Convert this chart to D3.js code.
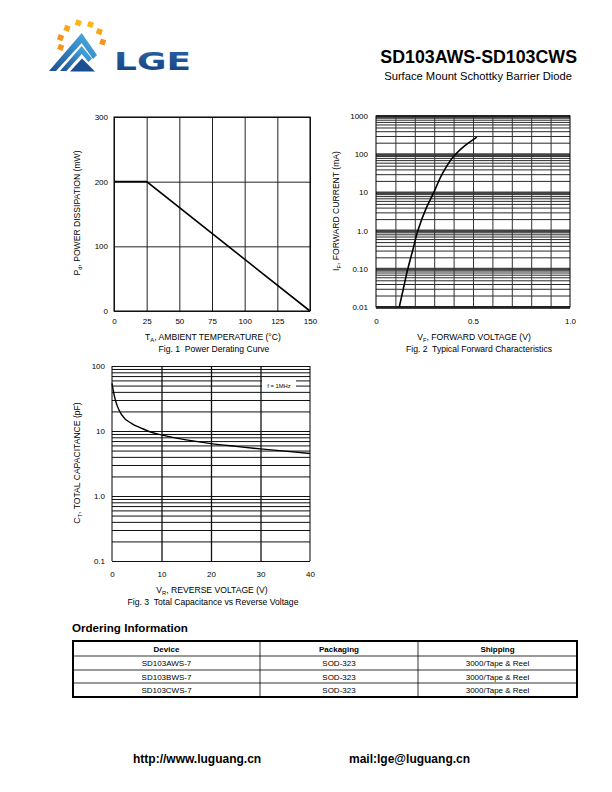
<!DOCTYPE html>
<html><head><meta charset="utf-8">
<script src="https://cdn.jsdelivr.net/npm/d3@7/dist/d3.min.js"></script>
<style>body{margin:0;background:#fff}svg{display:block;font-family:"Liberation Sans",Arial,sans-serif}text{white-space:pre}</style>
</head><body>
<script>
// ---------- data ----------
const fig1Temp = [0, 25, 150];
const fig1Power = [200, 200, 0];
const fig1XTicks = [0, 25, 50, 75, 100, 125, 150];
const fig1YTicks = [0, 100, 200, 300];

const fig2Vf = [0.12, 0.141, 0.164, 0.189, 0.216, 0.26, 0.298, 0.341, 0.41, 0.46, 0.52];
const fig2If = [0.01, 0.03, 0.1, 0.3, 1, 4, 10, 30, 100, 170, 280];
const fig2XTicks = [0, 0.5, 1.0];
const fig2XLabels = ["0", "0.5", "1.0"];
const fig2YTicks = [0.01, 0.1, 1, 10, 100, 1000];
const fig2YLabels = ["0.01", "0.10", "1.0", "10", "100", "1000"];

const fig3Vr = [0, 0.5, 1, 2, 4, 6, 8, 10, 15, 20, 25, 30, 35, 40];
const fig3Ct = [54, 34, 25, 17.6, 13, 11, 9.5, 8.7, 7.3, 6.4, 5.8, 5.3, 4.9, 4.5];
const fig3XTicks = [0, 10, 20, 30, 40];
const fig3YTicks = [0.1, 1, 10, 100];
const fig3YLabels = ["0.1", "1.0", "10", "100"];

const orderHeader = ["Device", "Packaging", "Shipping"];
const orderDevice = ["SD103AWS-7", "SD103BWS-7", "SD103CWS-7"];
const orderPackaging = ["SOD-323", "SOD-323", "SOD-323"];
const orderShipping = ["3000/Tape & Reel", "3000/Tape & Reel", "3000/Tape & Reel"];

// ---------- svg ----------
const svg = d3.select("body").append("svg").attr("width", 612).attr("height", 792);
const defs = svg.append("defs");

// ---------- logo ----------
const logo = svg.append("g");
const dots = [[60.7,47.3,"#f7941d"],[60.5,37.7,"#f7941d"],[67,28.3,"#f9a61a"],[78.3,22.8,"#fbb614"],[90.5,24.5,"#fbb614"],[99.3,31.7,"#f9a61a"],[102.7,42,"#f7941d"]];
logo.selectAll("rect.dot").data(dots).join("rect").attr("class","dot")
  .attr("x", d => d[0]-2.8).attr("y", d => d[1]-2.8).attr("width",5.6).attr("height",5.6)
  .attr("fill", d => d[2]).attr("transform", d => `rotate(20,${d[0]},${d[1]})`);
const grad = defs.append("linearGradient").attr("id","lg").attr("x1",1).attr("y1",0).attr("x2",0).attr("y2",1);
grad.append("stop").attr("offset",0).attr("stop-color","#4fb6ea");
grad.append("stop").attr("offset",1).attr("stop-color","#1a4f94");
logo.append("path").attr("d","M49,71 L81.7,33 L97,55 L93,59 L81.7,43 L56,71 Z").attr("fill","url(#lg)");
logo.append("path").attr("d","M60,71 L81.7,46 L92,58.5 L88.5,62 L81.7,54 L66.5,71 Z").attr("fill","url(#lg)");
logo.append("path").attr("d","M70,71.5 L82,58.5 L95,71.5 Z").attr("fill","#1a4f94");
const tg = defs.append("linearGradient").attr("id","tg").attr("x1",0).attr("y1",0).attr("x2",0).attr("y2",1);
tg.append("stop").attr("offset",0).attr("stop-color","#2a63a8");
tg.append("stop").attr("offset",1).attr("stop-color","#163f7c");
logo.append("text").attr("x",114).attr("y",70).attr("font-size",25).attr("font-weight","bold")
  .attr("fill","url(#tg)").attr("font-family","'DejaVu Sans',sans-serif").attr("textLength",77).attr("lengthAdjust","spacingAndGlyphs").text("LGE");

// ---------- title ----------
svg.append("text").attr("x",577).attr("y",63).attr("text-anchor","end").attr("font-size",17.8).attr("font-weight","bold").text("SD103AWS-SD103CWS");
svg.append("text").attr("x",572).attr("y",80).attr("text-anchor","end").attr("font-size",11.2).text("Surface Mount Schottky Barrier Diode");

// ---------- helpers ----------
const LBL = 8.6;
function subLabel(g, x, y, main, sub, rest, rotate) {
  const t = g.append("text").attr("x", x).attr("y", y).attr("text-anchor","middle").attr("font-size",LBL);
  if (rotate) t.attr("transform", `rotate(-90,${x},${y})`);
  t.append("tspan").text(main);
  t.append("tspan").attr("font-size",5.8).attr("dy",2).text(sub);
  t.append("tspan").attr("dy",-2).text(rest);
}
function styleTicks(sel) {
  sel.select(".domain").remove();
  sel.selectAll(".tick line").remove();
  sel.selectAll("text").attr("font-size",8).attr("font-family","'Liberation Sans',Arial,sans-serif").attr("fill","#000");
}

// ---------- Fig 1 ----------
{
  const L=114, R=310, T=117, B=311;
  const x = d3.scaleLinear().domain([0,150]).range([L,R]);
  const y = d3.scaleLinear().domain([0,300]).range([B,T]);
  const g = svg.append("g");
  g.append("g").attr("transform",`translate(0,${B})`).call(d3.axisBottom(x).tickValues(fig1XTicks).tickSize(-(B-T)).tickFormat(""))
    .call(s=>{s.select(".domain").remove(); s.selectAll(".tick line").attr("stroke","#222").attr("stroke-width",1);});
  g.append("g").attr("transform",`translate(${L},0)`).call(d3.axisLeft(y).tickValues(fig1YTicks).tickSize(-(R-L)).tickFormat(""))
    .call(s=>{s.select(".domain").remove(); s.selectAll(".tick line").attr("stroke","#222").attr("stroke-width",1);});
  g.append("rect").attr("x",L).attr("y",T).attr("width",R-L).attr("height",B-T).attr("fill","none").attr("stroke","#000").attr("stroke-width",1);
  g.append("g").attr("transform",`translate(0,${B+3})`).call(d3.axisBottom(x).tickValues(fig1XTicks).tickSize(0).tickPadding(4)).call(styleTicks);
  g.append("g").attr("transform",`translate(${L-6},0)`).call(d3.axisLeft(y).tickValues(fig1YTicks).tickSize(0).tickPadding(0)).call(styleTicks);
  g.append("path").datum(fig1Temp.map((t,i)=>[t,fig1Power[i]]))
    .attr("d", d3.line().x(d=>x(d[0])).y(d=>y(d[1]))).attr("fill","none").attr("stroke","#000").attr("stroke-width",1.6);
  subLabel(g, 213, 340, "T", "A", ", AMBIENT TEMPERATURE (°C)");
  g.append("text").attr("x",214).attr("y",352).attr("text-anchor","middle").attr("font-size",LBL).text("Fig. 1  Power Derating Curve");
  subLabel(g, 80, 213, "P", "d", ", POWER DISSIPATION (mW)", true);
}

// ---------- Fig 2 ----------
{
  const L=376, R=570, T=116, B=307;
  const x = d3.scaleLinear().domain([0,1]).range([L,R]);
  const y = d3.scaleLog().domain([0.01,1000]).range([B,T]);
  const g = svg.append("g");
  const minor = [];
  [0.01,0.1,1,10,100].forEach(d=>{for(let k=2;k<=9;k++) minor.push(k*d);});
  g.append("g").attr("transform",`translate(${L},0)`).call(d3.axisLeft(y).tickValues(minor).tickSize(-(R-L)).tickFormat(""))
    .call(s=>{s.select(".domain").remove(); s.selectAll(".tick line").attr("stroke","#111").attr("stroke-width",0.9);});
  g.append("g").attr("transform",`translate(${L},0)`).call(d3.axisLeft(y).tickValues(fig2YTicks).tickSize(-(R-L)).tickFormat(""))
    .call(s=>{s.select(".domain").remove(); s.selectAll(".tick line").attr("stroke","#444").attr("stroke-width",3);});
  g.append("g").attr("transform",`translate(0,${B})`).call(d3.axisBottom(x).tickValues(d3.range(1,10).map(i=>i/10)).tickSize(-(B-T)).tickFormat(""))
    .call(s=>{s.select(".domain").remove(); s.selectAll(".tick line").attr("stroke","#333").attr("stroke-width",1);});
  g.append("rect").attr("x",L).attr("y",T).attr("width",R-L).attr("height",B-T).attr("fill","none").attr("stroke","#000").attr("stroke-width",1);
  g.append("g").attr("transform",`translate(0,${B+7})`).call(d3.axisBottom(x).tickValues(fig2XTicks).tickFormat((d,i)=>fig2XLabels[i]).tickSize(0).tickPadding(4)).call(styleTicks);
  g.append("g").attr("transform",`translate(${L-8},0)`).call(d3.axisLeft(y).tickValues(fig2YTicks).tickFormat((d,i)=>fig2YLabels[i]).tickSize(0).tickPadding(0)).call(styleTicks);
  g.append("path").datum(fig2Vf.map((v,i)=>[v,fig2If[i]]))
    .attr("d", d3.line().x(d=>x(d[0])).y(d=>y(d[1])).curve(d3.curveMonotoneY)).attr("fill","none").attr("stroke","#000").attr("stroke-width",1.6);
  subLabel(g, 474, 340, "V", "F", ", FORWARD VOLTAGE (V)");
  g.append("text").attr("x",479).attr("y",352).attr("text-anchor","middle").attr("font-size",LBL).text("Fig. 2  Typical Forward Characteristics");
  subLabel(g, 339, 211, "I", "F", ", FORWARD CURRENT (mA)", true);
}

// ---------- Fig 3 ----------
{
  const L=112, R=310, T=366, B=561;
  const x = d3.scaleLinear().domain([0,40]).range([L,R]);
  const y = d3.scaleLog().domain([0.1,100]).range([B,T]);
  const g = svg.append("g");
  const minor = [];
  [0.1,1,10].forEach(d=>{for(let k=1;k<=9;k++) minor.push(k*d);});
  minor.push(100);
  g.append("g").attr("transform",`translate(${L},0)`).call(d3.axisLeft(y).tickValues(minor).tickSize(-(R-L)).tickFormat(""))
    .call(s=>{s.select(".domain").remove(); s.selectAll(".tick line").attr("stroke","#111").attr("stroke-width",1);});
  g.append("g").attr("transform",`translate(0,${B})`).call(d3.axisBottom(x).tickValues([10,20,30]).tickSize(-(B-T)).tickFormat(""))
    .call(s=>{s.select(".domain").remove(); s.selectAll(".tick line").attr("stroke","#111").attr("stroke-width",1.3);});
  g.append("line").attr("x1",L).attr("x2",L).attr("y1",T).attr("y2",B).attr("stroke","#000").attr("stroke-width",1);
  g.append("line").attr("x1",R).attr("x2",R).attr("y1",T).attr("y2",B).attr("stroke","#000").attr("stroke-width",1);
  g.append("rect").attr("x",262).attr("y",380).attr("width",34).attr("height",10).attr("fill","#fff");
  g.append("text").attr("x",279).attr("y",388).attr("text-anchor","middle").attr("font-size",5.8).text("f = 1MHz");
  g.append("g").attr("transform",`translate(0,${B+6})`).call(d3.axisBottom(x).tickValues(fig3XTicks).tickSize(0).tickPadding(4)).call(styleTicks);
  g.append("g").attr("transform",`translate(${L-7},0)`).call(d3.axisLeft(y).tickValues(fig3YTicks).tickFormat((d,i)=>fig3YLabels[i]).tickSize(0).tickPadding(0)).call(styleTicks);
  g.append("path").datum(fig3Vr.map((v,i)=>[v,fig3Ct[i]]))
    .attr("d", d3.line().x(d=>x(d[0])).y(d=>y(d[1])).curve(d3.curveMonotoneX)).attr("fill","none").attr("stroke","#000").attr("stroke-width",1.4);
  subLabel(g, 212, 593, "V", "R", ", REVERSE VOLTAGE (V)");
  g.append("text").attr("x",213).attr("y",605).attr("text-anchor","middle").attr("font-size",LBL).text("Fig. 3  Total Capacitance vs Reverse Voltage");
  subLabel(g, 80, 463, "C", "T", ", TOTAL CAPACITANCE (pF)", true);
}

// ---------- Ordering table ----------
{
  svg.append("text").attr("x",72).attr("y",632).attr("font-size",11.6).attr("font-weight","bold").text("Ordering Information");
  const colX = [73, 260, 418, 577];
  const rowY = [641, 656, 670, 683, 697];
  const t = svg.append("g");
  t.selectAll("line.r").data(rowY.slice(1,-1)).join("line").attr("x1",colX[0]).attr("x2",colX[3]).attr("y1",d=>d).attr("y2",d=>d).attr("stroke","#000").attr("stroke-width",0.8);
  t.selectAll("line.c").data(colX.slice(1,-1)).join("line").attr("y1",rowY[0]).attr("y2",rowY[4]).attr("x1",d=>d).attr("x2",d=>d).attr("stroke","#000").attr("stroke-width",0.8);
  t.append("rect").attr("x",colX[0]).attr("y",rowY[0]).attr("width",colX[3]-colX[0]).attr("height",rowY[4]-rowY[0]).attr("fill","none").attr("stroke","#000").attr("stroke-width",2);
  const cols = [orderDevice, orderPackaging, orderShipping];
  orderHeader.forEach((h,c)=>{
    const cx = (colX[c]+colX[c+1])/2;
    t.append("text").attr("x",cx).attr("y",rowY[0]+11).attr("text-anchor","middle").attr("font-size",8).attr("font-weight","bold").text(h);
    cols[c].forEach((v,r)=>{
      t.append("text").attr("x",cx).attr("y",rowY[r+1]+9.5).attr("text-anchor","middle").attr("font-size",8).text(v);
    });
  });
}

// ---------- footer ----------
svg.append("text").attr("x",133).attr("y",763).attr("font-size",12).attr("font-weight","bold").text("http://www.luguang.cn");
svg.append("text").attr("x",349).attr("y",763).attr("font-size",12).attr("font-weight","bold").text("mail:lge@luguang.cn");
</script>
</body></html>
